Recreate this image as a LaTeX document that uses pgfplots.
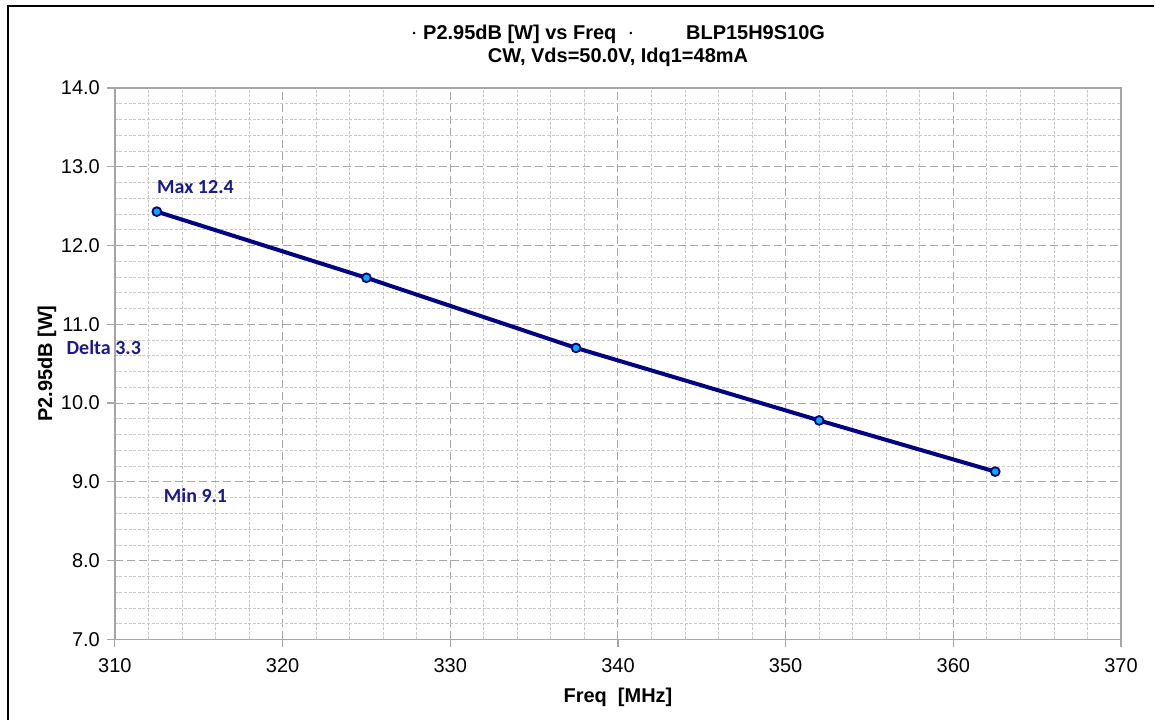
\documentclass[border=0pt]{standalone}
\usepackage{pgfplots}
\pgfplotsset{compat=1.18}
\usepackage{fontspec}
\setmainfont{Liberation Sans}
\newfontfamily\calibri{Carlito}
\definecolor{navy}{HTML}{000080}
\definecolor{annot}{HTML}{1A1A8C}
\definecolor{gridmaj}{HTML}{A6A6A6}
\definecolor{gridmin}{HTML}{C8C8C8}

\begin{document}
\begin{tikzpicture}[x=0.5pt,y=0.5pt]
% page size = 1155 x 721 px
\path (0,0) rectangle (1155,721);
\draw[black,line width=1pt] (8,0) -- (8,715) -- (1155,715);
\begin{axis}[at={(57.5pt,40.5pt)},anchor=south west,
  scale only axis,width=503.5pt,height=276pt,
  xmin=310,xmax=370,ymin=7,ymax=14,
  xtick={310,320,...,370},ytick={7,8,...,14},
  minor x tick num=4,minor y tick num=4,
  grid=both,
  major grid style={gridmaj,dash pattern=on 4pt off 2pt,line width=0.5pt},
  minor grid style={gridmin,dash pattern=on 1.5pt off 0.8pt,line width=0.4pt},
  axis line style={gridmaj,line width=0.8pt},
  tick style={gridmaj,line width=0.6pt},
  major tick length=4pt,minor tick length=0pt,
  tick align=outside,
  xtick pos=bottom,ytick pos=left,
  tick label style={font=\fontsize{10}{11}\selectfont,black},
  /pgf/number format/assume math mode=true,
  yticklabel style={/pgf/number format/.cd,fixed,fixed zerofill,precision=1},
  xticklabel style={yshift=-2pt,/pgf/number format/.cd,fixed,precision=0},
  xlabel={\bfseries Freq~~[MHz]},
  ylabel={\bfseries P2.95dB [W]},
  label style={font=\fontsize{10}{11}\selectfont},
  xlabel style={yshift=-1pt},
  ylabel style={yshift=-4.5pt},
  title={\bfseries {\large$\cdot$} P2.95dB [W] vs Freq~~{\large$\cdot$}\hspace{2.6em}BLP15H9S10G\\ \bfseries CW, Vds=50.0V, Idq1=48mA},
  title style={font=\fontsize{10}{11.5}\selectfont,align=center,yshift=1pt},
  clip=false]
\addplot[navy,line width=2pt,mark=*,mark size=2.2pt,
  mark options={fill=cyan,draw=navy,line width=0.9pt}]
  coordinates {(312.5,12.43)(325,11.59)(337.5,10.70)(352,9.78)(362.5,9.13)};
\node[annot,font=\calibri\bfseries\fontsize{10}{11}\selectfont,anchor=west] at (axis cs:312.1,12.74) {Max 12.4};
\node[annot,font=\calibri\bfseries\fontsize{10}{11}\selectfont,anchor=west] at (axis cs:312.5,8.83) {Min 9.1};
\node[annot,font=\calibri\bfseries\fontsize{10}{11}\selectfont,anchor=west] at (axis cs:306.7,10.71) {Delta 3.3};
\end{axis}
\end{tikzpicture}
\end{document}
